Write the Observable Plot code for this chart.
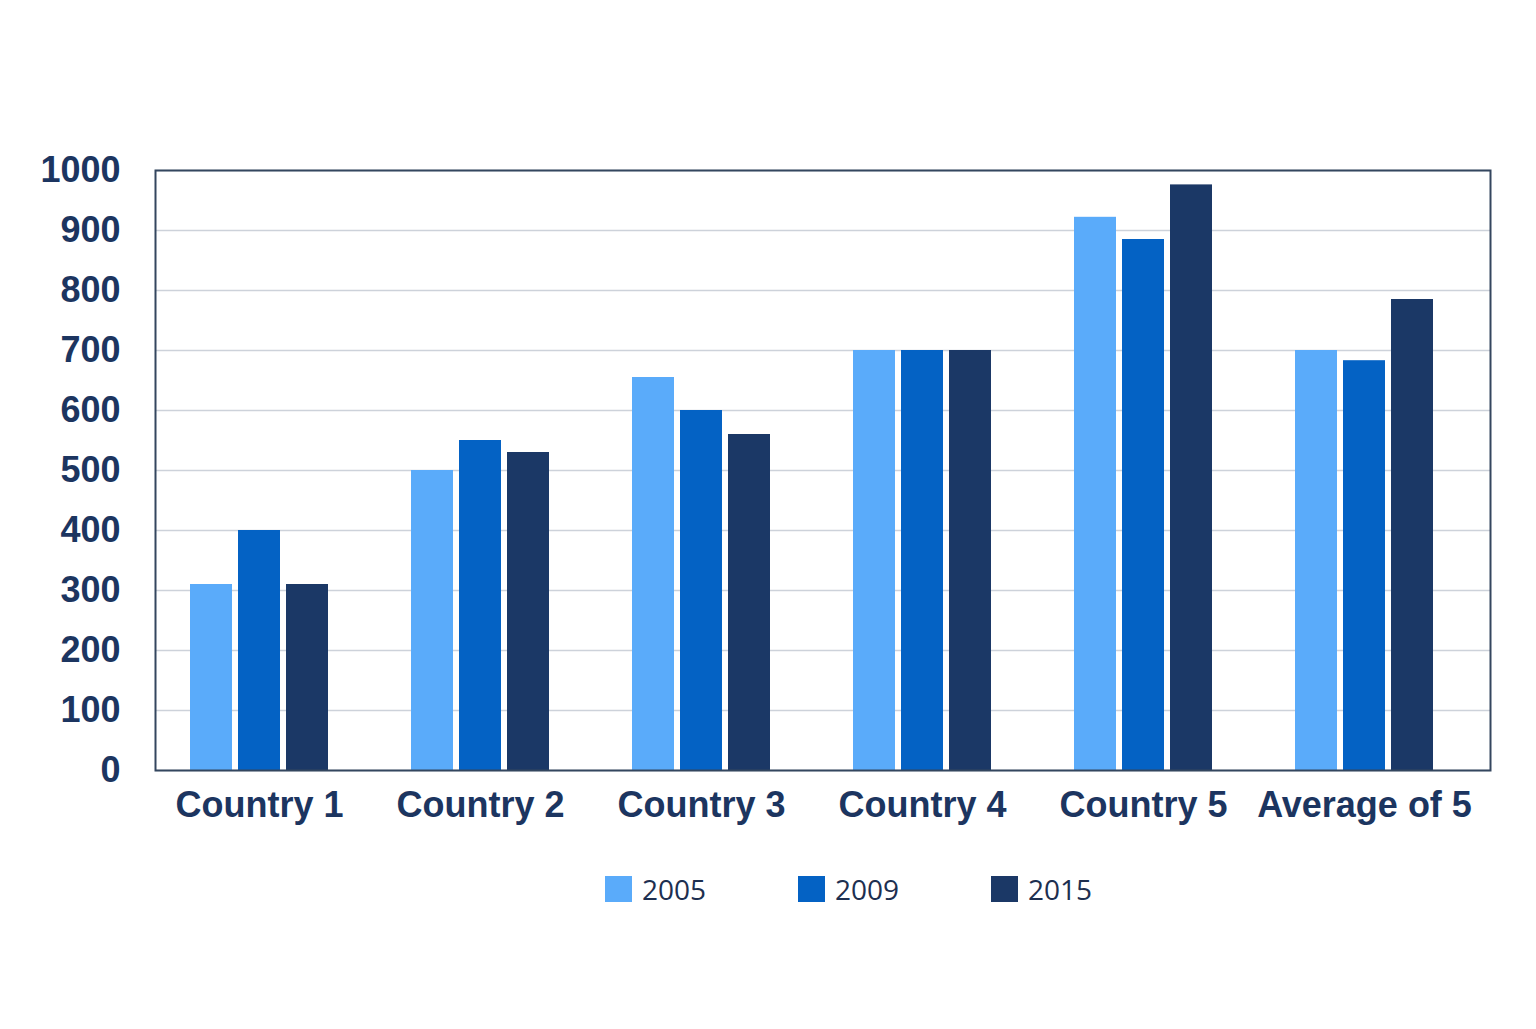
<!DOCTYPE html>
<html>
<head>
<meta charset="utf-8">
<script src="https://cdn.jsdelivr.net/npm/d3@7"></script>
<script src="https://cdn.jsdelivr.net/npm/@observablehq/plot@0.6"></script>
<style>
  html, body { margin: 0; padding: 0; background: #ffffff; }
  #chart { position: relative; width: 1536px; height: 840px; }
  #chart svg { display: block; position: absolute; left: 0; top: 0; }
  #legend { display: flex; align-items: center; padding-left: 605px; margin-top: 30px; font-family: "Open Sans", sans-serif; font-size: 28px; color: #1d2f50; }
  .item { display: flex; align-items: center; margin-right: 92px; }
  .sw { width: 27px; height: 26px; margin-right: 10px; }
</style>
</head>
<body>
<div id="chart"></div>
<div id="legend"></div>
<script>
const categories = ["Country 1", "Country 2", "Country 3", "Country 4", "Country 5", "Average of 5"];
const years = ["2005", "2009", "2015"];
const values2005 = [310, 500, 655, 700, 922, 700];
const values2009 = [400, 550, 600, 700, 885, 683];
const values2015 = [310, 530, 560, 700, 976, 785];
const colors = ["#5aabfa", "#0462c4", "#1b3866"];
const yTicks = [0, 100, 200, 300, 400, 500, 600, 700, 800, 900, 1000];

const series = [values2005, values2009, values2015];
const data = [];
categories.forEach((c, i) => {
  years.forEach((y, j) => data.push({category: c, year: y, value: series[j][i]}));
});

const textColor = "#1c3560";
const font = "'Liberation Sans', Arial, sans-serif";
const common = {
  width: 1536,
  height: 840,
  marginLeft: 155,
  marginRight: 46,
  marginTop: 170,
  marginBottom: 70,
  y: {domain: [0, 1000], label: null}
};

// background layer: grid and y axis
const grid = Plot.plot({
  ...common,
  style: {fontFamily: font, background: "white"},
  marks: [
    Plot.ruleY(yTicks, {stroke: "#cdd2da", strokeWidth: 1.5}),
    Plot.axisY(yTicks, {tickSize: 0, tickPadding: 35, fontSize: 36, fontWeight: "bold", fill: textColor, label: null, tickFormat: d => String(d)})
  ]
});

// middle layer: grouped bars and category axis
const bars = Plot.plot({
  ...common,
  style: {fontFamily: font, background: "transparent"},
  fx: {domain: categories, paddingInner: 0.3756, paddingOuter: 0.208, align: 0.376, label: null},
  x: {domain: years, paddingInner: 0.125, paddingOuter: 0, axis: null},
  y: {domain: [0, 1000], axis: null},
  color: {domain: years, range: colors},
  marks: [
    Plot.barY(data, {fx: "category", x: "year", y: "value", fill: "year"}),
    Plot.axisFx({anchor: "bottom", tickSize: 0, tickPadding: 21, fontSize: 36, fontWeight: "bold", fill: textColor, label: null})
  ]
});

// top layer: frame
const frame = Plot.plot({
  ...common,
  style: {background: "transparent"},
  y: {domain: [0, 1000], axis: null},
  marks: [
    Plot.frame({stroke: "#34465f", strokeWidth: 2})
  ]
});

const container = document.getElementById("chart");
container.appendChild(grid);
container.appendChild(bars);
container.appendChild(frame);

const legend = d3.select("#legend");
years.forEach((y, i) => {
  const item = legend.append("div").attr("class", "item");
  item.append("div").attr("class", "sw").style("background", colors[i]);
  item.append("span").text(y);
});
</script>
</body>
</html>
